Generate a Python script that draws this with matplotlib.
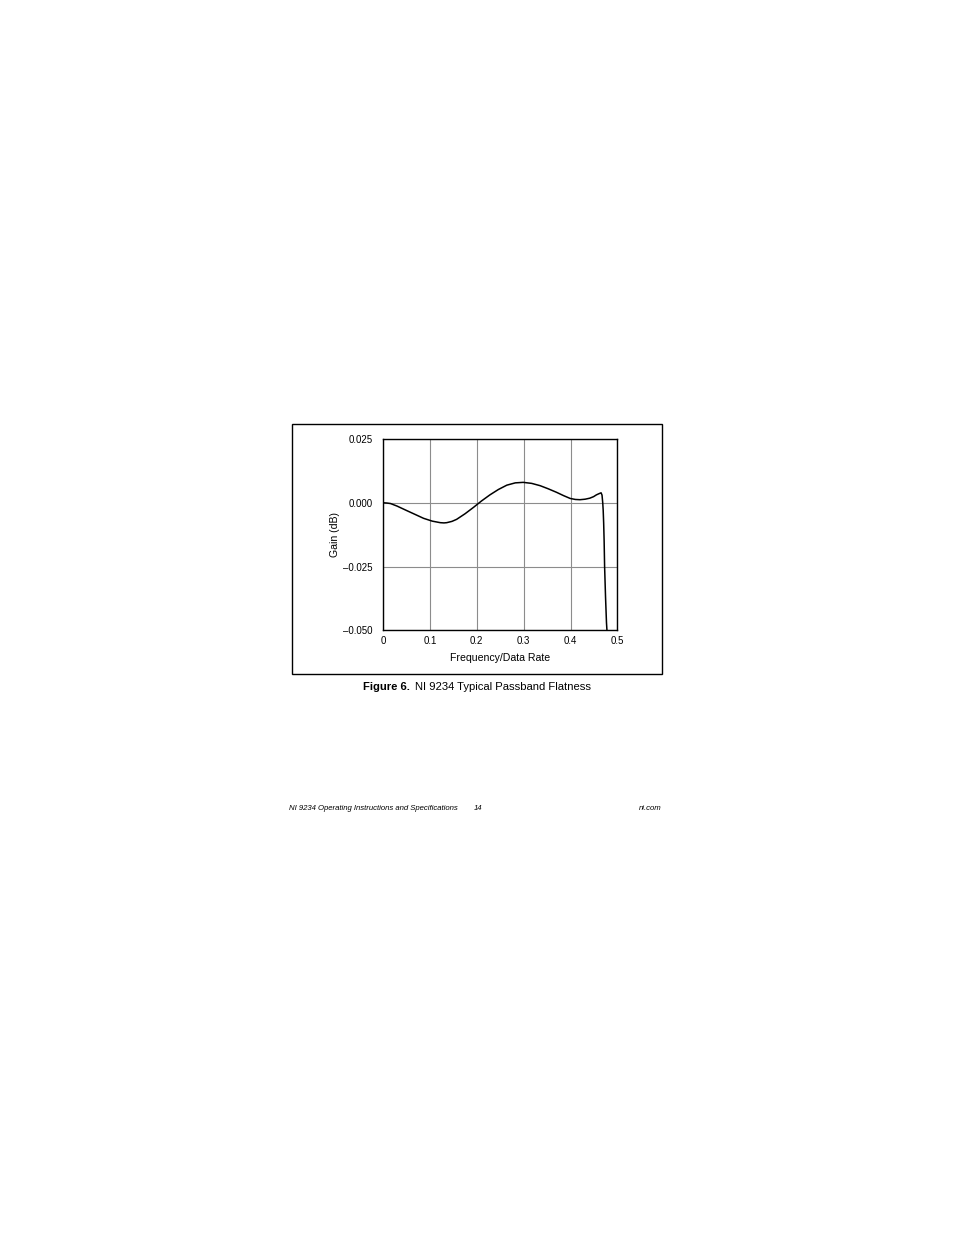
import matplotlib
matplotlib.use("Agg")
import matplotlib.pyplot as plt
from matplotlib.patches import Rectangle

freq = [0.0, 0.008, 0.016, 0.03, 0.051, 0.07, 0.0865, 0.105, 0.122, 0.13, 0.136, 0.147, 0.157,
        0.175, 0.193, 0.21, 0.228, 0.246, 0.264, 0.282, 0.299, 0.317, 0.335, 0.352, 0.370,
        0.385, 0.399, 0.410, 0.420, 0.431, 0.441, 0.449, 0.455, 0.461, 0.465, 0.467,
        0.4685, 0.4695, 0.4705, 0.4715, 0.4725, 0.4745, 0.4765, 0.4775, 0.479]
gain = [0.0, -0.0001, -0.0003, -0.0013, -0.0031, -0.0047, -0.0061, -0.0072, -0.0078, -0.0079,
        -0.0078, -0.0073, -0.0065, -0.0043, -0.0018, 0.0007, 0.0031, 0.0052, 0.0069, 0.0078,
        0.0080, 0.0076, 0.0067, 0.0055, 0.0041, 0.0028, 0.0017, 0.0013, 0.0012, 0.0014,
        0.0018, 0.0024, 0.0031, 0.0036, 0.0039, 0.0030,
        0.0000, -0.0030, -0.0080, -0.0150, -0.0250, -0.0370, -0.0470, -0.0500, -0.0600]

xticks = [0, 0.1, 0.2, 0.3, 0.4, 0.5]
xtick_labels = ["0", "0.1", "0.2", "0.3", "0.4", "0.5"]
yticks = [0.025, 0.0, -0.025, -0.050]
ytick_labels = ["0.025", "0.000", "\u20130.025", "\u20130.050"]

plt.rcParams['font.family'] = ['Liberation Sans', 'DejaVu Sans']

W, H = 954, 1235
fig = plt.figure(figsize=(W / 100, H / 100), dpi=100)

# outer frame
fig.add_artist(Rectangle((292.5 / W, 1 - 674 / H), (661.5 - 292.5) / W, (674 - 424.3) / H,
                         transform=fig.transFigure, fill=False, edgecolor='black', linewidth=1.0))

ax = fig.add_axes([383 / W, 1 - 630.3 / H, 234.5 / W, (630.3 - 439) / H])
ax.plot(freq, gain, color='black', linewidth=1.1, zorder=3)
ax.set_xlim(0, 0.5)
ax.set_ylim(-0.050, 0.025)
ax.set_xticks(xticks)
ax.set_xticklabels(xtick_labels)
ax.set_yticks(yticks)
ax.set_yticklabels(ytick_labels)
ax.tick_params(length=0, labelsize=7)
ax.tick_params(axis='y', pad=7.5)
ax.tick_params(axis='x', pad=4)
ax.grid(True, color='#8c8c8c', linewidth=0.8)
for s in ax.spines.values():
    s.set_linewidth(1.0)
    s.set_color('black')
ax.set_xlabel("Frequency/Data Rate", fontsize=7.6, labelpad=5.5)
ax.set_ylabel("Gain (dB)", fontsize=7.6, labelpad=2)

# caption: bold "Figure 6." followed by regular text, centred as a whole
fig.canvas.draw()
renderer = fig.canvas.get_renderer()
cap_y = 1 - 686.5 / H
t1 = fig.text(0, cap_y, "Figure 6.", fontsize=8.1, fontweight='bold', ha='left', va='center')
t2 = fig.text(0, cap_y, "NI 9234 Typical Passband Flatness", fontsize=8.1, ha='left', va='center')
w1 = t1.get_window_extent(renderer).width
w2 = t2.get_window_extent(renderer).width
gap = 5
start = 477 - (w1 + gap + w2) / 2
t1.set_x(start / W)
t2.set_x((start + w1 + gap) / W)

foot_y = 1 - 808 / H
fig.text(289 / W, foot_y, "NI 9234 Operating Instructions and Specifications", fontsize=5.6,
         style='italic', ha='left', va='center')
fig.text(474 / W, foot_y, "14", fontsize=5.6, style='italic', ha='left', va='center')
fig.text(662 / W, foot_y, "ni.com", fontsize=5.6, style='italic', ha='right', va='center')

fig.savefig("out.png", dpi=100)
